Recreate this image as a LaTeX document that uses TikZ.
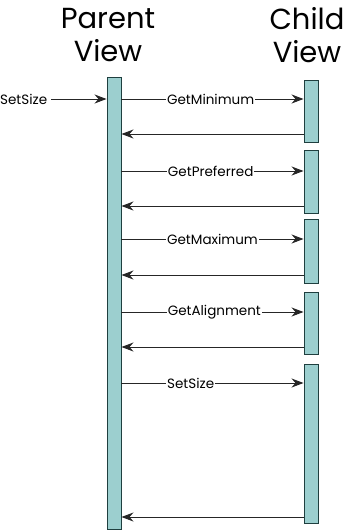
\documentclass[tikz,border=0pt]{standalone}
\usepackage{fontspec}
\setmainfont{Poppins}
\usetikzlibrary{positioning,arrows.meta}
\definecolor{life}{HTML}{9CCFCF}
\definecolor{edge}{HTML}{1F3F3F}

\begin{document}
\begin{tikzpicture}[x=1pt,y=-1pt,
    bar/.style={draw=edge,fill=life,line width=0.9pt,minimum width=14pt,inner sep=0pt,anchor=north},
    msg/.style={line width=1pt,draw=black!85,-{Stealth[length=12pt,width=9pt]}},
    lbl/.style={fill=white,inner sep=1pt,font=\fontsize{13.5}{15}\selectfont},
    title/.style={font=\fontsize{29}{31}\selectfont,align=center,inner sep=0pt}]
    \useasboundingbox (0,0) rectangle (345,530);
    % headings
    \node[title] (ptitle) at (108,35) {Parent\\[2pt]View};
    \node[title] (ctitle) at (307,35) {Child\\[2pt]View};
    % lifelines
    \node[bar,minimum height=452pt] (parent) at (114,77) {};
    \node[bar,minimum height=62pt] (child1) at (311,80) {};
    \node[bar,minimum height=63pt] (child2) at (311,150) {};
    \node[bar,minimum height=64pt] (child3) at (311,219) {};
    \node[bar,minimum height=62pt] (child4) at (311,292) {};
    \node[bar,minimum height=159pt] (child5) at (311,364) {};
    % incoming call
    \node[lbl,anchor=west,inner sep=0pt] (setsize) at (0,99) {SetSize};
    \draw[msg] (setsize.east) ++(4,0) coordinate (start) -- (start -| parent.west);
    % calls and returns
    \draw[msg] (parent.east |- 0,99) -- (child1.west |- 0,99) node[lbl,pos=0.49] {GetMinimum};
    \draw[msg] (child1.west |- 0,134) -- (parent.east |- 0,134);
    \draw[msg] (parent.east |- 0,171) -- (child2.west |- 0,171) node[lbl,pos=0.49] {GetPreferred};
    \draw[msg] (child2.west |- 0,206) -- (parent.east |- 0,206);
    \draw[msg] (parent.east |- 0,239) -- (child3.west |- 0,239) node[lbl,pos=0.5] {GetMaximum};
    \draw[msg] (child3.west |- 0,275) -- (parent.east |- 0,275);
    \draw[msg] (parent.east |- 0,312) -- (child4.west |- 0,312) node[lbl,pos=0.51] {GetAlignment};
    \draw[msg] (child4.west |- 0,347) -- (parent.east |- 0,347);
    \draw[msg] (parent.east |- 0,383) -- (child5.west |- 0,383) node[lbl,pos=0.38] {SetSize};
    \draw[msg] (child5.west |- 0,517) -- (parent.east |- 0,517);
\end{tikzpicture}
\end{document}
